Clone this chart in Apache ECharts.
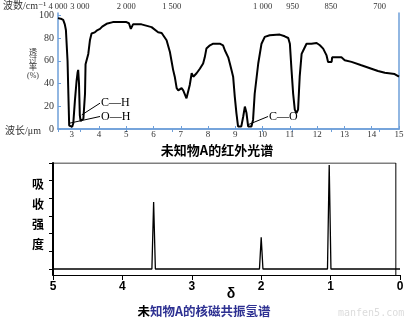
<!DOCTYPE html>
<html><head><meta charset="utf-8">
<script src="https://cdn.jsdelivr.net/npm/echarts@6/dist/echarts.min.js"></script>
<style>html,body{margin:0;padding:0;background:#fff}#c{width:409px;height:319px}</style>
</head><body><div id="c"></div>
<script>
// ---- IR spectrum (wavelength in µm, transmittance in %) ----
const irWavelength = [2.5,2.6,2.69,2.75,2.79,2.85,2.88,2.91,2.95,3.02,3.06,3.12,3.18,3.22,3.24,3.27,3.30,3.33,3.38,3.43,3.47,3.49,3.51,3.61,3.67,3.73,3.85,3.95,4.04,4.12,4.16,4.28,4.51,5.01,5.10,5.17,5.25,5.56,5.93,6.17,6.30,6.48,6.60,6.66,6.72,6.78,6.85,6.91,7.03,7.09,7.15,7.21,7.27,7.33,7.40,7.46,7.52,7.58,7.70,7.76,7.82,7.88,7.94,8.07,8.19,8.43,8.55,8.62,8.74,8.80,8.86,8.92,8.98,9.04,9.10,9.22,9.29,9.35,9.41,9.47,9.59,9.65,9.71,9.84,9.96,10.08,10.26,10.63,10.81,10.94,11.0,11.06,11.12,11.18,11.24,11.30,11.36,11.43,11.49,11.61,11.79,11.98,12.10,12.22,12.34,12.40,12.53,12.55,12.89,13.01,13.26,13.62,13.99,14.23,14.48,14.84,15.0];
const irTransmittance = [97.5,97,96,92,87,60,31,3,1.5,2,5,25,42,50,52,40,12,7,8,9,10,31,57,66,78,84,85,87,88,90,89,92.5,94,94,93,88,92,92,89.6,85,84.4,78,68,60,52,46,36,34,36,34,35,27,28,38.7,49,46,46,49,53,54.7,57.6,63,70.7,73.6,75,75,73.6,69,63,57.6,51.8,46,28.5,14,2.3,2.3,11,19.7,14,2.3,2.3,8,31,57.6,75,81,82.4,83,81.5,80,75,52,31,17,14,17,46,66,69,75,75,75.6,73.6,70.7,65,59,59,63,63,60.5,59,56,53,51,49.4,48.3,46];
const irWavelengthTicks = [3,4,5,6,7,8,9,10,11,12,13,14,15];
const irTransmittanceTicks = [0,20,40,60,80,100];
// top axis: label texts and the wavelength at which each is printed in the figure
const wavenumberLabels = ['4 000','3 000','2 000','1 500','1 000','950','850','700'];
const wavenumberTickAt = [2.5,3.3,5.0,6.67,10.0,11.1,12.5,14.29];
// band annotations: label, point on curve, label anchor
const bandLabels = ['C—H','O—H','C—O'];
const bandPoint = [[3.37,12.4],[2.94,5.2],[9.47,3.8]];
const bandAnchor = [[4.04,22.7],[4.04,11],[10.2,11]];

// ---- 1H NMR spectrum ----
const nmrShift = [3.55, 2.0, 1.02];
const nmrHeight = [3.79, 1.79, 5.88];
const nmrShiftTicks = [0,1,2,3,4,5];
const nmrIntensityTicks = [0,1,2,3,4,5,6];

const blue = '#6e9fd9';
const serif = '"Liberation Serif","DejaVu Serif","Noto Sans CJK SC",serif';
const cjk = '"Noto Sans CJK SC","Liberation Sans",sans-serif';
const boldSans = '"Liberation Sans","DejaVu Sans",sans-serif';

const irData = irWavelength.map((w,i)=>[w, irTransmittance[i]]);
const halfW = 0.025;
const nmrData = [[5,0]];
nmrShift.forEach((s,i)=>{ nmrData.push([s+halfW,0],[s,nmrHeight[i]],[s-halfW,0]); });
nmrData.push([0,0]);

const chart = echarts.init(document.getElementById('c'), null, {renderer:'canvas'});
chart.setOption({
  animation:false,
  backgroundColor:'#fff',
  grid:[{left:58,right:10,top:13,bottom:190},{left:53,right:9,top:163,bottom:44}],
  xAxis:[
    {gridIndex:0,type:'value',min:2.5,max:15,position:'bottom',
     axisLine:{show:true,lineStyle:{color:blue,width:1.5}},
     axisTick:{show:true,inside:true,length:3,lineStyle:{color:blue},customValues:irWavelengthTicks},
     axisLabel:{customValues:irWavelengthTicks,fontFamily:serif,fontSize:9,color:'#333',margin:1,showMinLabel:true,showMaxLabel:true,hideOverlap:false},
     splitLine:{show:false}},
    {gridIndex:0,type:'value',min:2.5,max:15,position:'top',
     axisLine:{show:true,lineStyle:{color:blue,width:1.5}},
     axisTick:{show:true,inside:true,length:3,lineStyle:{color:blue},customValues:wavenumberTickAt},
     axisLabel:{customValues:wavenumberTickAt,fontFamily:serif,fontSize:8.5,color:'#333',margin:1.5,showMinLabel:true,showMaxLabel:true,hideOverlap:false,
       formatter:v=>{const i=wavenumberTickAt.findIndex(t=>Math.abs(t-v)<1e-6);return i>=0?wavenumberLabels[i]:'';}},
     splitLine:{show:false}},
    {gridIndex:1,type:'value',min:0,max:5,inverse:true,position:'bottom',
     axisLine:{show:true,onZero:false,lineStyle:{color:'#000',width:1}},
     axisTick:{show:true,length:5,lineStyle:{color:'#000'},customValues:nmrShiftTicks},
     axisLabel:{customValues:nmrShiftTicks,fontFamily:boldSans,fontWeight:'bold',fontSize:12,color:'#000',margin:6,showMinLabel:true,showMaxLabel:true},
     splitLine:{show:false}}
  ],
  yAxis:[
    {gridIndex:0,type:'value',min:0,max:102,position:'left',
     axisLine:{show:true,lineStyle:{color:blue,width:1.5}},
     axisTick:{show:true,inside:true,length:3,lineStyle:{color:blue},customValues:irTransmittanceTicks},
     axisLabel:{customValues:irTransmittanceTicks,fontFamily:serif,fontSize:10,color:'#333',margin:4,showMinLabel:true},
     splitLine:{show:false}},
    {gridIndex:0,type:'value',min:0,max:102,position:'right',
     axisLine:{show:true,lineStyle:{color:blue,width:1.5}},
     axisTick:{show:false},axisLabel:{show:false},splitLine:{show:false}},
    {gridIndex:1,type:'value',min:-0.34,max:6,position:'left',
     axisLine:{show:true,onZero:false,lineStyle:{color:'#000',width:2}},
     axisTick:{show:true,length:4,lineStyle:{color:'#000'},customValues:nmrIntensityTicks},
     axisLabel:{show:false},splitLine:{show:false}}
  ],
  series:[
    {type:'line',xAxisIndex:0,yAxisIndex:0,data:irData,symbol:'none',
     lineStyle:{color:'#000',width:2},z:3},
    {type:'line',xAxisIndex:2,yAxisIndex:2,data:nmrData,symbol:'none',
     lineStyle:{color:'#000',width:1.3},z:3},
    {type:'line',xAxisIndex:2,yAxisIndex:2,data:[[5,6],[0.06,6],[0.06,-0.34]],symbol:'none',
     lineStyle:{color:'#000',width:1},z:2}
  ]
});

const g = [];
// IR static texts
g.push({type:'text',x:3,y:6,style:{text:'波数/cm⁻¹',font:'10px '+serif,fill:'#333',verticalAlign:'middle'}});
['透','过','率','(%)'].forEach((t,i)=>g.push({type:'text',x:33,y:53+i*7.7,style:{text:t,font:'8px '+serif,fill:'#333',align:'center',verticalAlign:'middle'}}));
g.push({type:'text',x:5,y:131,style:{text:'波长/μm',font:'10px '+serif,fill:'#333',verticalAlign:'middle'}});
g.push({type:'text',x:217,y:150,style:{text:'未知物A的红外光谱',font:'bold 13px '+cjk,fill:'#000',align:'center',verticalAlign:'middle'}});
// band annotations anchored in data space
bandLabels.forEach((lab,i)=>{
  const p = chart.convertToPixel({seriesIndex:0}, bandPoint[i]);
  const a = chart.convertToPixel({seriesIndex:0}, bandAnchor[i]);
  g.push({type:'line',shape:{x1:p[0],y1:p[1],x2:a[0],y2:a[1]},style:{stroke:'#000',lineWidth:1},z:10});
  g.push({type:'text',x:a[0]+1,y:a[1],style:{text:lab,font:'12px '+serif,fill:'#000',verticalAlign:'middle'},z:10});
});
// NMR texts
['吸','收','强','度'].forEach((t,i)=>g.push({type:'text',x:38,y:184+i*20.3,style:{text:t,font:'bold 12px '+cjk,fill:'#000',align:'center',verticalAlign:'middle'}}));
g.push({type:'text',x:231,y:294,style:{text:'δ',font:'bold 14px '+boldSans,fill:'#000',align:'center',verticalAlign:'middle'}});
g.push({type:'text',x:204,y:311,style:{text:'{a|未}{b|知物A的核磁共振氢谱}',align:'center',verticalAlign:'middle',
  rich:{a:{font:'bold 12.5px '+cjk,fill:'#000'},b:{font:'bold 12.5px '+cjk,fill:'#2e3192'}}}});
g.push({type:'text',x:338,y:313,style:{text:'manfen5.com',font:'10px "DejaVu Sans Mono",monospace',fill:'#dcdcdc',verticalAlign:'middle'}});
chart.setOption({graphic:g});
</script>
</body></html>
